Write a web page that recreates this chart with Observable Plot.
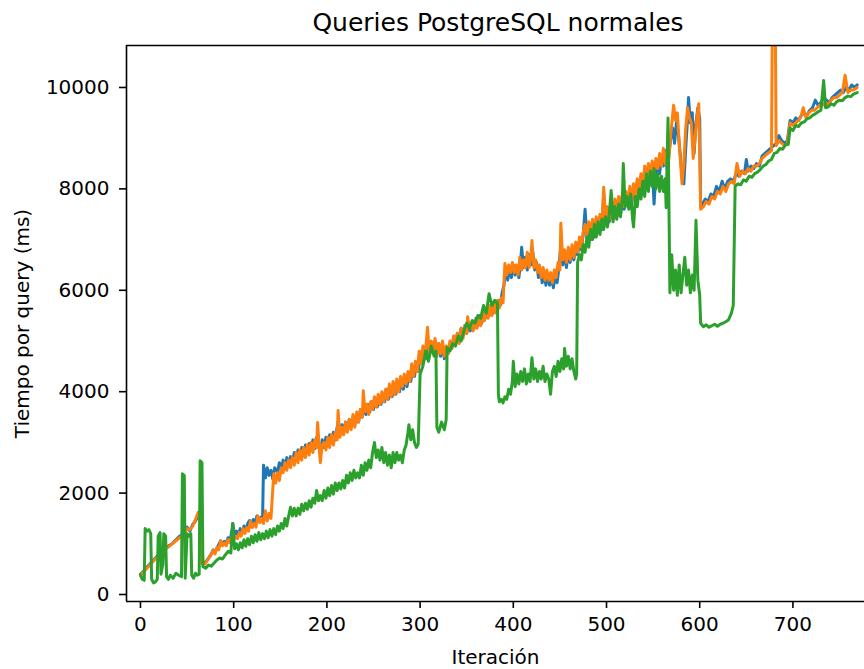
<!DOCTYPE html>
<html><head><meta charset="utf-8">
<script src="https://cdn.jsdelivr.net/npm/d3@7"></script>
<script src="https://cdn.jsdelivr.net/npm/@observablehq/plot@0.6"></script>
<style>
body{margin:0;background:#fff;overflow:hidden;font-family:"DejaVu Sans",sans-serif;}
#title{height:40px;position:relative;}
#title span{position:absolute;left:498px;top:8px;transform:translateX(-50%);font-size:25px;white-space:nowrap;color:#000;}
</style></head><body>
<div id="title"><span>Queries PostgreSQL normales</span></div>
<div id="chart"></div>
<script>
const xTicks = [0,100,200,300,400,500,600,700];
const yTicks = [0,2000,4000,6000,8000,10000];

const blue = [[0,400],[3,450],[6,520],[10,600],[14,680],[18,760],[22,830],[26,900],[30,960],[34,1000],[38,1080],[42,1150],[46,1200],[50,1330],[53,1250],[56,1380],[59,1450],[62,1560],[65,1450],[67,600],[70,640],[73,720],[76,800],[78,880],[80,830],[83,950],[86,1060],[88,980],[90,1050],[92,980],[94,1120],[96,1050],[98,1250],[99,1400],[101,1150],[103,1250],[105,1180],[107,1300],[109,1220],[111,1350],[113,1250],[115,1400],[117,1460],[119,1350],[121,1480],[123,1380],[125,1550],[127,1450],[129,1520],[131,1480],
[132,2550],[134,2300],[136,2500],[138,2350],[140,2450],[142,2280],[144,2500],[147,2420],[149,2600],[151,2450],[153,2650],[155,2500],[157,2700],[159,2550],[161,2720],[163,2600],[165,2800],[167,2650],[169,2850],[171,2700],[173,2900],[175,2750],[177,2950],[179,2800],[181,2980],[183,2850],[185,3050],[187,2880],[189,3100],[191,2950],[193,2750],[195,3050],[197,2900],[199,3100],[201,2950],[203,3150],[205,3000],[207,3200],[209,3050],[211,3300],[212,3400],[214,3150],[216,3350],[218,3200],[220,3400],[222,3250],[224,3450],[226,3300],[228,3500],[230,3350],[232,3550],[234,3400],[236,3650],[238,3500],[240,3700],[242,3550],[244,3750],[246,3600],[248,3800],[250,3650],[252,3850],[254,3700],[256,3900],[258,3750],[260,3950],[262,3800],[264,4050],[266,3850],[268,4100],[270,3900],[272,4150],[274,3950],[276,4200],[278,4000],[280,4250],[282,4050],[284,4300],[286,4100],[288,4350],[290,4200],[292,4450],[294,4300],[296,4550],[298,4400],[300,4700],[302,4550],[304,4850],[306,4650],[308,4950],[310,4750],[312,4950],[314,4800],[316,5000],[318,4750],[320,4950],[322,4700],[324,4900],[326,4650],[328,4850],[330,4750],[332,4950],[334,4850],[336,5050],[338,4950],[340,5150],[342,5000],[344,5250],[346,5100],[348,5300],[350,5150],[352,5350],[354,5200],[356,5400],[358,5250],[360,5450],[362,5300],[364,5500],[366,5350],[368,5550],[370,5450],[372,5650],[374,5500],[376,5700],[378,5550],[380,5750],[382,5600],[384,5800],[386,5700],[388,5950],[390,6100],
[392,6450],[394,6200],[396,6450],[398,6250],[400,6500],[402,6300],[404,6450],[406,6250],[408,6600],[409,6850],[411,6450],[413,6650],[415,6400],[417,6700],[419,6500],[421,6750],[423,6400],[425,6550],[427,6250],[429,6400],[431,6150],[433,6350],[435,6100],[437,6300],[439,6100],[441,6250],[443,6050],[445,6300],[447,6150],[449,6450],[451,6900],[453,6500],[455,6700],[457,6450],[459,6750],[461,6550],[463,6800],[465,6600],[467,6850],[469,6700],[471,6950],[473,6800],[475,7100],[477,7600],[479,7050],[481,7250],[483,7000],[485,7300],[487,7050],[489,7350],[491,7150],[493,7400],[495,7200],[497,7900],[499,7350],[501,7550],[503,7350],[505,7600],[507,7400],[509,7700],[511,7450],[513,7750],[515,7500],[517,7850],[519,7600],[521,7900],[523,7650],[525,7950],[527,7700],[529,8000],[531,7800],[533,8150],[535,7900],[537,8250],[539,8050],[541,8350],[543,8100],[545,8400],[547,8200],[549,8450],[551,7700],[553,8300],[555,8500],[557,8300],[559,8650],[561,8450],[563,8750],[565,8400],[567,8700],[569,9000],[571,9200],[573,8900],[575,9300],[577,9100],[579,8700],[581,8300],[583,8100],[585,8800],[587,9400],[588,9800],[590,9300],[592,9500],[594,8700],[596,9300],[598,9600],[600,9400],
[601,7650],[603,7700],[606,7800],[609,7750],[612,7900],[615,7850],[618,8050],[621,7950],[624,8150],[627,8000],[630,8150],[633,8200],[636,8150],[639,8300],[642,8250],[645,8350],[648,8300],[650,8580],[652,8350],[655,8450],[658,8400],[661,8500],[664,8450],[667,8650],[670,8700],[673,8750],[676,8800],[679,8850],[682,8900],[685,9050],[688,8950],[691,8900],[694,8950],[697,9350],[700,9300],[703,9400],[706,9350],[709,9450],[712,9500],[715,9450],[718,9550],[721,9600],[724,9750],[727,9650],[730,9700],[733,9800],[736,9750],[739,9700],[742,9800],[745,9850],[748,9900],[751,9950],[754,9900],[757,10000],[760,9950],[763,10050],[766,10000],[769,10050]];

const orange = [[0,380],[3,430],[6,500],[10,580],[14,660],[18,740],[22,820],[26,880],[30,940],[34,1000],[38,1060],[42,1120],[46,1180],[50,1300],[53,1280],[56,1350],[59,1480],[62,1620],[64,1500],[66,620],[69,600],[72,680],[75,760],[78,870],[80,800],[82,930],[84,880],[86,1060],[88,960],[90,1020],[92,960],[94,1080],[96,1020],[98,1150],[100,1080],[102,1150],[104,1100],[106,1220],[108,1150],[110,1300],[112,1200],[114,1320],[116,1250],[118,1450],[120,1320],[122,1400],[124,1330],[126,1550],[128,1420],[130,1500],[132,1400],[134,1650],[136,1450],[138,1600],[140,1500],[141,1800],
[143,2380],[145,2200],[147,2400],[149,2250],[151,2500],[153,2400],[155,2600],[157,2450],[159,2650],[161,2500],[163,2700],[165,2550],[167,2800],[169,2600],[171,2850],[173,2650],[175,2900],[177,2700],[179,2950],[181,2750],[183,3000],[185,2800],[187,3050],[189,2900],[190,3390],[192,2850],[193,2600],[195,2950],[197,3000],[199,2850],[201,3100],[203,2900],[205,3150],[207,2950],[209,3200],[211,3050],[212,3630],[214,3100],[216,3300],[218,3150],[220,3400],[222,3200],[224,3450],[226,3250],[228,3550],[230,3300],[232,3600],[234,3400],[236,3650],[238,3500],[239,4020],[241,3600],[243,3750],[245,3550],[247,3800],[249,3650],[251,3900],[253,3700],[255,3950],[257,3750],[259,4000],[261,3800],[263,4050],[265,3850],[267,4150],[269,3900],[271,4200],[273,3950],[275,4250],[277,4000],[279,4300],[281,4100],[283,4350],[285,4150],[287,4400],[289,4200],[291,4550],[293,4300],[295,4600],[297,4400],[299,4800],[301,4550],[303,4900],[305,4650],[308,5270],[310,4700],[312,5000],[314,4750],[316,5050],[318,4700],[320,4950],[322,4750],[324,5000],[326,4700],[328,4900],[330,4750],[332,5000],[334,4850],[336,5100],[338,4950],[340,5150],[342,4950],[344,5250],[346,5050],[348,5300],[350,5150],[351,5480],[353,5250],[355,5350],[357,5200],[359,5400],[361,5250],[363,5500],[365,5300],[367,5550],[369,5400],[371,5650],[373,5450],[375,5700],[377,5500],[379,5750],[381,5550],[383,5800],[385,5650],[387,5850],[389,5750],
[391,6530],[393,6300],[395,6500],[397,6350],[399,6550],[401,6350],[403,6500],[405,6300],[407,6650],[409,6400],[411,6600],[413,6450],[415,6750],[417,6450],[419,6700],[420,6980],[422,6450],[424,6600],[426,6350],[428,6500],[430,6250],[432,6450],[434,6200],[436,6400],[438,6200],[440,6350],[442,6150],[444,6400],[446,6250],[448,6550],[450,6400],[451,7320],[453,6600],[455,6800],[457,6550],[459,6850],[461,6600],[463,6900],[465,6650],[467,6950],[469,6750],[471,7050],[473,6850],[475,7150],[477,7300],[479,7100],[481,7350],[483,7100],[485,7400],[487,7150],[489,7450],[491,7200],[493,7500],[495,7250],[497,8030],[499,7400],[501,7650],[503,7400],[505,7700],[507,7450],[509,7800],[511,7550],[513,7850],[515,7600],[517,7900],[519,7650],[521,7950],[523,7700],[525,8050],[527,7750],[529,8100],[531,7850],[533,8200],[535,7950],[537,8300],[539,8100],[541,8450],[543,8200],[545,8500],[547,8250],[549,8550],[551,8300],[553,8600],[555,8400],[557,8700],[559,8450],[561,8800],[563,8500],[565,8750],[567,8600],[569,9100],[572,9650],[574,9350],[576,9500],[578,8900],[581,8100],[583,8500],[585,9200],[587,9600],[589,9400],[591,9300],[593,8600],[595,9000],[597,9400],[599,9680],
[601,7600],[604,7650],[607,7750],[610,7700],[613,7850],[616,7800],[619,7950],[622,7900],[625,8050],[628,7950],[631,8100],[634,8150],[637,8100],[640,8500],[643,8250],[646,8350],[649,8300],[652,8400],[655,8350],[658,8450],[661,8450],[664,8500],[667,8600],[670,8650],[673,8700],[677,8750],[678,11500],[681,11500],[682,8850],[685,8950],[688,8900],[691,8850],[694,8900],[697,9300],[700,9250],[703,9300],[706,9350],[709,9450],[711,9600],[714,9400],[717,9500],[720,9550],[723,9550],[726,9600],[729,9650],[732,9650],[735,9700],[738,9650],[741,9750],[744,9800],[747,9800],[750,9850],[753,9900],[756,10240],[759,9900],[762,9950],[765,9950],[769,10000]];

const green = [[0,380],[2,300],[4,280],[5,1300],[7,1250],[9,1280],[11,1200],[12,300],[14,230],[16,250],[18,300],[19,1150],[21,1220],[22,400],[24,600],[25,1200],[27,1150],[28,350],[30,300],[32,380],[35,320],[38,420],[41,380],[44,350],[45,2380],[47,2350],[48,320],[50,1200],[52,1150],[54,1200],[55,380],[57,320],[59,420],[61,380],[63,400],[64,2640],[66,2600],[67,550],[70,520],[73,580],[76,560],[79,620],[82,680],[85,720],[88,700],[91,780],[94,850],[97,820],
[99,1400],[101,900],[103,1000],[105,880],[107,1020],[109,920],[111,1080],[113,950],[115,1100],[117,980],[119,1150],[121,1020],[123,1180],[125,1050],[127,1220],[129,1080],[131,1200],[133,1100],[135,1250],[137,1120],[139,1280],[141,1150],[143,1300],[145,1180],[147,1350],[149,1250],[151,1400],[153,1300],[155,1500],[157,1350],[159,1550],[161,1720],[163,1550],[165,1700],[167,1550],[169,1700],[171,1580],[173,1780],[175,1650],[177,1800],[179,1680],[181,1850],[183,1720],[185,1900],[187,1800],[189,2050],[191,1850],[193,1950],[195,1850],[197,2050],[199,1900],[201,2100],[203,1950],[205,2150],[207,1980],[209,2200],[211,2050],[213,2200],[215,2080],[217,2250],[219,2100],[221,2350],[223,2200],[225,2400],[227,2250],[229,2450],[231,2300],[233,2400],[235,2300],[237,2550],[239,2350],[241,2600],[243,2450],[245,2650],[247,2500],[249,2800],[251,3000],[253,2700],[255,2850],[257,2650],[259,2900],[261,2600],[263,2800],[265,2550],[267,2750],[269,2500],[271,2800],[273,2600],[275,2800],[277,2650],[279,2750],[281,2600],[283,2850],[285,2950],[287,3200],[288,3350],[290,3050],[292,3250],[294,3000],[296,2900],[298,2970],
[300,4350],[303,4500],[306,4800],[309,4600],[312,4900],[315,4700],[317,4800],[318,3300],[320,3200],[323,3400],[326,3250],[328,3450],[329,4870],[332,4800],[335,4950],[338,4900],[341,5100],[344,5000],[347,5200],[350,5350],[353,5250],[356,5400],[359,5350],[362,5500],[365,5450],[368,5700],[371,5550],[374,5930],[377,5700],[380,5800],[383,5750],
[384,3950],[385,3800],[387,3850],[389,3780],[391,3900],[393,3850],[395,4050],[397,3950],[399,4200],[400,4600],[402,4100],[404,4350],[406,4150],[408,4400],[410,4200],[412,4450],[414,4150],[416,4350],[418,4200],[420,4670],[422,4250],[424,4450],[426,4200],[428,4400],[430,4250],[432,4500],[434,4200],[436,4350],[438,4250],[440,3950],[442,4400],[444,4500],[446,4300],[448,4600],[450,4400],[452,4650],[454,4450],[455,4850],[457,4500],[459,4700],[461,4450],[463,4650],[465,4400],[467,4250],[468,4350],
[469,6550],[471,6700],[473,6600],[475,6900],[477,6750],[479,7050],[481,6850],[483,7200],[485,7000],[487,7300],[489,7050],[491,7350],[493,7100],[495,7400],[497,7200],[499,7450],[501,7250],[503,7500],[505,7970],[507,7350],[509,7650],[511,7400],[513,7700],[515,7450],[517,7800],[518,8500],[520,7650],[522,7850],[524,7600],[526,7900],[528,7400],[529,7250],[531,7850],[533,7650],[535,8000],[537,7800],[539,8150],[541,7850],[543,8300],[545,7950],[547,8350],[549,8050],[551,8400],[553,8000],[555,8300],[557,7950],[559,8250],[561,7950],[563,8200],[564,7630],[566,9400],
[568,5950],[570,6700],[572,6000],[574,6400],[576,5900],[578,6500],[580,5950],[582,6300],[584,6650],[586,6100],[588,6400],[590,5950],[592,6300],[594,6000],[596,7380],[598,6200],[600,5900],
[601,5350],[604,5280],[607,5320],[610,5270],[613,5300],[616,5330],[619,5290],[622,5330],[625,5350],[628,5380],[631,5420],[634,5550],[636,5700],
[638,8050],[641,8100],[644,8080],[647,8180],[650,8150],[653,8250],[656,8230],[659,8300],[662,8330],[665,8380],[668,8450],[671,8480],[674,8550],[677,8580],[680,8700],[683,8720],[686,8800],[689,8780],[692,8870],[695,8880],[697,9200],[700,9150],[703,9250],[706,9230],[709,9300],[712,9320],[715,9380],[718,9400],[721,9450],[724,9480],[727,9520],[730,9550],[733,10140],[735,9600],[738,9620],[741,9680],[744,9650],[747,9720],[750,9750],[753,9740],[756,9800],[759,9830],[762,9820],[765,9870],[769,9900]];

const xDomain = [-15, 776.8];
const yDomain = [-138, 10828];
const lineOpts = (color) => ({x: d => d[0], y: d => d[1], stroke: color, strokeWidth: 3, clip: true});

const chart = Plot.plot({
  width: 864,
  height: 629,
  marginLeft: 126,
  marginRight: 0,
  marginTop: 5,
  marginBottom: 68,
  style: {fontSize: "20px", fontFamily: "DejaVu Sans", background: "white", color: "black"},
  x: {domain: xDomain},
  y: {domain: yDomain},
  marks: [
    Plot.line(blue, lineOpts("#1f77b4")),
    Plot.line(orange, lineOpts("#ff7f0e")),
    Plot.line(green, lineOpts("#2ca02c")),
    Plot.ruleX([xDomain[0]], {strokeWidth: 1.6}),
    Plot.ruleY([yDomain[0]], {strokeWidth: 1.6}),
    Plot.ruleY([yDomain[1]], {strokeWidth: 1.6}),
    Plot.axisX({ticks: xTicks, tickSize: 7, tickPadding: 8, strokeWidth: 1.6, tickFormat: d => String(d),
      label: "Iteración", labelAnchor: "center", labelArrow: "none", labelOffset: 62}),
    Plot.axisY({ticks: yTicks, tickSize: 7, tickPadding: 10, strokeWidth: 1.6, tickFormat: d => String(d),
      label: "Tiempo por query (ms)", labelAnchor: "center", labelArrow: "none", labelOffset: 112})
  ]
});
document.getElementById("chart").appendChild(chart);
</script>
</body></html>
